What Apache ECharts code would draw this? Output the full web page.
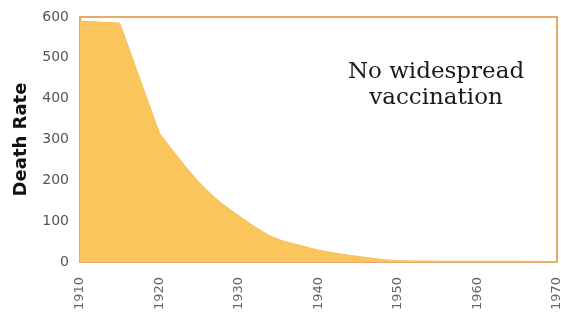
<!DOCTYPE html>
<html>
<head>
<meta charset="utf-8">
<script src="https://cdn.jsdelivr.net/npm/echarts@6/dist/echarts.min.js"></script>
<style>
  html, body { margin: 0; padding: 0; background: #fff; }
  #main { width: 561px; height: 318px; }
</style>
</head>
<body>
<div id="main"></div>
<script>
// death rate per year
var years = [1910, 1915, 1920, 1921, 1922, 1923, 1924, 1925, 1926, 1927, 1928, 1929, 1930,
             1931, 1932, 1933, 1934, 1935, 1936, 1937, 1938, 1939, 1940, 1942, 1944, 1946,
             1948, 1950, 1955, 1960, 1965, 1970];
var deathRate = [590, 585, 315, 290, 265, 240, 217, 195, 175, 157, 141, 127, 113,
                 99, 86, 74, 63, 55, 49, 44, 39, 34, 29, 22, 16, 11,
                 6, 3, 2, 2, 2, 0];
var yTicks = [0, 100, 200, 300, 400, 500, 600];
var xTicks = [1910, 1920, 1930, 1940, 1950, 1960, 1970];
var note = ['No widespread', 'vaccination'];

var chart = echarts.init(document.getElementById('main'));
var points = years.map(function (y, i) { return [y, deathRate[i]]; });

chart.setOption({
  animation: false,
  grid: {
    left: 80, right: 4, top: 17, bottom: 56,
    outerBoundsMode: 'none',
    containLabel: false,
    show: true,
    borderColor: '#E8A86A',
    borderWidth: 2,
    backgroundColor: '#fff'
  },
  xAxis: {
    type: 'value',
    min: xTicks[0],
    max: xTicks[xTicks.length - 1],
    interval: 10,
    axisLine: { show: false },
    axisTick: { show: false },
    splitLine: { show: false },
    axisLabel: {
      rotate: 90,
      margin: 15,
      color: '#666',
      fontFamily: 'DejaVu Sans',
      fontSize: 13,
      formatter: function (v) { return String(v); }
    }
  },
  yAxis: {
    type: 'value',
    min: yTicks[0],
    max: yTicks[yTicks.length - 1],
    interval: 100,
    name: 'Death Rate',
    nameLocation: 'middle',
    nameGap: 50,
    nameTextStyle: {
      color: '#111',
      fontFamily: 'DejaVu Sans',
      fontWeight: 'bold',
      fontSize: 18
    },
    axisLine: { show: false },
    axisTick: { show: false },
    splitLine: { show: false },
    axisLabel: {
      margin: 11,
      color: '#555',
      fontFamily: 'DejaVu Sans',
      fontSize: 14
    }
  },
  series: [{
    type: 'line',
    data: points,
    symbol: 'none',
    lineStyle: { color: '#F7BE52', width: 1 },
    areaStyle: { color: '#FAC65C', opacity: 1 }
  }],
  graphic: [{
    type: 'text',
    x: 436,
    y: 59,
    style: {
      text: note.join('\n'),
      font: '23px "DejaVu Serif"',
      fill: '#1a1a1a',
      textAlign: 'center',
      align: 'center',
      verticalAlign: 'top',
      lineHeight: 26
    }
  }]
});
window.addEventListener('resize', function () { chart.resize(); });
</script>
</body>
</html>
